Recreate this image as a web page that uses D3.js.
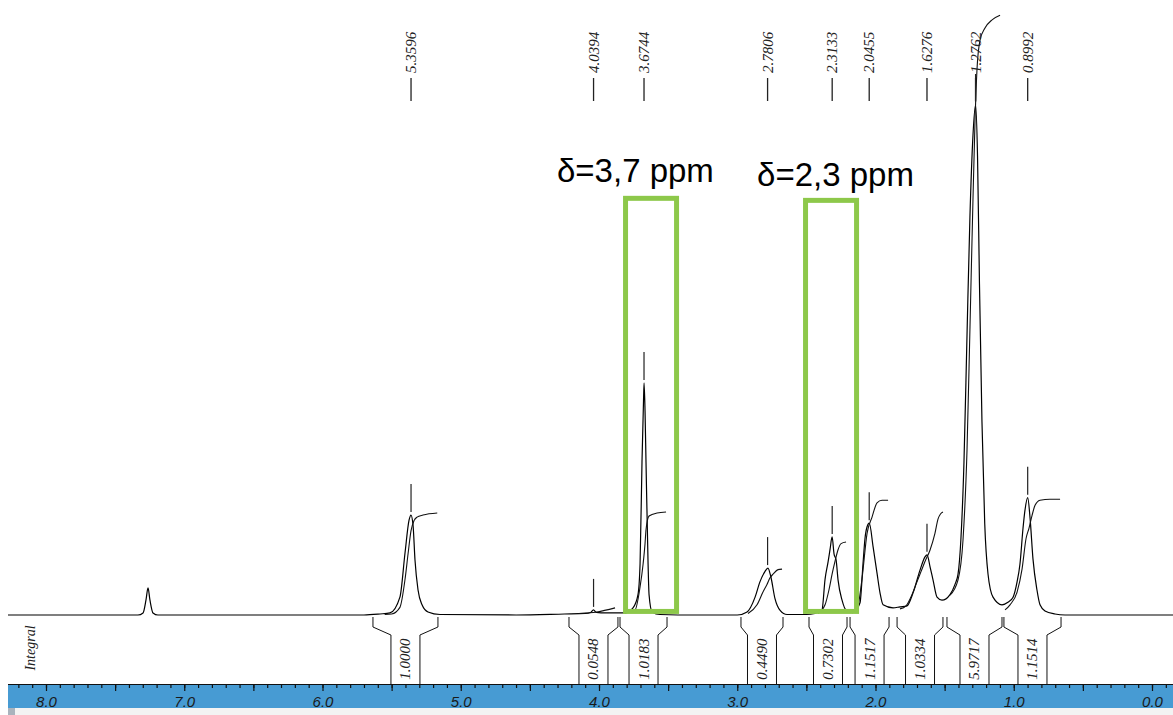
<!DOCTYPE html>
<html><head><meta charset="utf-8">
<script src="https://cdn.jsdelivr.net/npm/d3@7"></script>
<style>html,body{margin:0;padding:0;background:#fff;overflow:hidden}</style>
</head><body><svg id="c" width="1173" height="715"></svg>
<script>
// ---------- DATA ----------
// spectrum points: [ppm, relative intensity]
const spectrum = [
 [8.30,0],[7.40,0],[7.335,0],[7.298,0.4],[7.277,2.9],[7.262,5.3],[7.248,2.9],[7.226,0.4],[7.19,0],
 [5.70,0],[5.584,0.2],[5.512,0.4],[5.44,3.5],[5.403,12.2],[5.374,18.6],[5.36,19.6],[5.345,17.6],[5.331,10.8],[5.309,4.9],[5.28,2.0],[5.237,0.6],[5.15,0.1],[4.6,0],
 [4.25,0.2],[4.10,0.3],[4.06,0.5],[4.04,1.0],[4.02,0.5],[3.95,0.4],[3.85,0.4],
 [3.812,0.4],[3.754,1.4],[3.718,4],[3.703,10],[3.689,30],[3.678,42],[3.674,45.5],[3.667,40],[3.660,30],[3.645,10],[3.638,4],[3.616,0.6],[3.559,0.1],[3.3,0],
 [3.0,0],[2.929,0.6],[2.871,3.5],[2.836,6.5],[2.800,8.5],[2.778,9.2],[2.757,7.5],[2.727,3.2],[2.690,0.9],[2.640,0.1],
 [2.50,0.1],[2.438,0.3],[2.387,1],[2.365,7],[2.343,10.4],[2.328,13],[2.314,15.3],[2.30,12],[2.285,10.8],[2.271,6.9],[2.242,2.9],[2.213,1.0],[2.184,0.9],
 [2.148,1.0],[2.112,2.4],[2.09,10.2],[2.076,15],[2.061,17.3],[2.045,18],[2.017,13.3],[1.989,8.2],[1.967,4.3],[1.945,2.0],[1.873,1.4],
 [1.823,1.6],[1.772,1.8],[1.729,4.3],[1.678,8.8],[1.642,11.4],[1.627,11.8],[1.605,9.4],[1.584,6.9],[1.555,3.5],[1.519,2.9],
 [1.461,4],[1.425,6],[1.403,8],[1.382,15],[1.360,30],[1.338,55],[1.317,78],[1.295,94],[1.276,100],[1.262,90],[1.248,65],[1.230,38],[1.21,18],[1.186,8],[1.15,3.5],[1.085,2],
 [1.042,2.5],[1.005,3.5],[0.976,6.5],[0.955,10],[0.933,17],[0.919,20.5],[0.899,23],[0.882,19],[0.861,11],[0.832,4.9],[0.81,2],[0.774,0.8],[0.702,0.2],[0.629,0],[-0.16,0]
];

// integral curves: [ppm, relative height]
const integralCurves = [
 [[5.55,0.1],[5.50,0.2],[5.44,1.5],[5.403,7],[5.381,12],[5.36,16.5],[5.338,18.5],[5.316,19.2],[5.273,19.6],[5.17,20]],
 [[4.15,0.3],[4.014,0.6],[3.884,1.4]],
 [[3.812,0.4],[3.739,1.0],[3.703,5.5],[3.681,10],[3.667,14],[3.660,16.7],[3.638,19.4],[3.580,20],[3.515,20.2]],
 [[2.922,0.3],[2.857,2],[2.814,4.5],[2.785,6],[2.763,7.3],[2.741,8.0],[2.705,8.9],[2.676,9.0]],
 [[2.416,0.3],[2.365,2],[2.336,5],[2.314,8],[2.293,10.5],[2.271,12.8],[2.249,14],[2.213,14.3]],
 [[2.170,0.4],[2.134,1],[2.098,7],[2.061,16],[2.025,19.2],[1.989,22],[1.953,22.5],[1.909,22.5]],
 [[1.823,1.2],[1.779,1.8],[1.736,4],[1.700,6.5],[1.671,8.5],[1.642,10.5],[1.606,12.7],[1.570,16],[1.548,18.8],[1.530,19.8],[1.512,20.2]],
 [[1.461,3.9],[1.403,6.9],[1.367,14.7],[1.338,32.4],[1.317,56],[1.295,81.4],[1.280,97],[1.266,106.9],[1.244,112.7],[1.208,115.1],[1.157,116.7],[1.099,117.6]],
 [[1.063,1.0],[1.027,2],[0.976,4.5],[0.940,9],[0.911,15],[0.890,17],[0.868,19.5],[0.846,21.5],[0.810,22.5],[0.738,22.7],[0.665,22.7]]
];

// integral regions (ppm) and values
const integralFrom   = [5.635, 4.217, 3.848, 2.973, 2.481, 2.184, 1.844, 1.483, 1.071];
const integralTo     = [5.165, 3.863, 3.508, 2.669, 2.206, 1.902, 1.512, 1.085, 0.658];
const integralLabels = ["1.0000","0.0548","1.0183","0.4490","0.7302","1.1517","1.0334","5.9717","1.1514"];

// picked peaks
const peakLabels = ["5.3596","4.0394","3.6744","2.7806","2.3133","2.0455","1.6276","1.2762","0.8992"];
const peakTops   = [19.6, 1.0, 45.5, 9.2, 15.3, 18, 11.8, 100, 23];

// axis
const tickValuesMajor = [8,7,6,5,4,3,2,1,0];
const tickLabels = ["8.0","7.0","6.0","5.0","4.0","3.0","2.0","1.0","0.0"];

// highlight boxes
const boxLabels = ["δ=3,7 ppm","δ=2,3 ppm"];
const boxFrom = [3.808, 2.506];
const boxTo   = [3.439, 2.137];
const boxTop  = [81.7, 81.3];   // relative height of box top
const boxTextPpm = [4.304, 2.857];
const boxTextH = [84.9, 84.2];

// ---------- DRAW ----------
const svg = d3.select("#c");
const x = d3.scaleLinear().domain([8,0]).range([46,1152]);
const y = d3.scaleLinear().domain([0,100]).range([615,105]);

svg.append("defs").append("clipPath").attr("id","clip")
  .append("rect").attr("x",8).attr("y",0).attr("width",1165).attr("height",684);

const line = d3.line().x(d=>x(d[0])).y(d=>y(d[1])).curve(d3.curveMonotoneX);

const plot = svg.append("g").attr("clip-path","url(#clip)");

// green boxes (behind spectrum)
boxFrom.forEach((b,i)=>{
  svg.append("rect")
    .attr("x", x(b)).attr("y", y(boxTop[i]))
    .attr("width", x(boxTo[i])-x(b)).attr("height", y(0.7)-y(boxTop[i]))
    .attr("fill","none").attr("stroke","#8dc84a").attr("stroke-width",5);
  svg.append("text").attr("x", x(boxTextPpm[i])).attr("y", y(boxTextH[i]))
    .attr("font-family","Liberation Sans, Arial, sans-serif").attr("font-size",33)
    .attr("fill","#000").text(boxLabels[i]);
});

plot.append("path").datum(spectrum).attr("d",line)
  .attr("fill","none").attr("stroke","#000").attr("stroke-width",1.2);

integralCurves.forEach(c=>{
  plot.append("path").datum(c).attr("d",line)
    .attr("fill","none").attr("stroke","#111").attr("stroke-width",1.1);
});

// peak markers and labels
const serif = "Liberation Serif, Times New Roman, serif";
peakLabels.forEach((lab,i)=>{
  const p = parseFloat(lab), px = x(p);
  svg.append("line").attr("x1",px).attr("x2",px).attr("y1",78).attr("y2",101)
    .attr("stroke","#222").attr("stroke-width",1.3);
  svg.append("line").attr("x1",px).attr("x2",px).attr("y1",y(peakTops[i])-31).attr("y2",y(peakTops[i])-3)
    .attr("stroke","#222").attr("stroke-width",1.2);
  svg.append("text").attr("transform",`translate(${px+5},73) rotate(-90)`)
    .attr("font-family",serif).attr("font-style","italic").attr("font-size",15)
    .attr("fill","#222").text(lab);
});

// integral brackets
const yb0 = 617, yb1 = 627, yb2 = 635, yb3 = 684;
integralFrom.forEach((f,i)=>{
  const xl = x(f), xr = x(integralTo[i]), cx = (xl+xr)/2;
  const il = cx-14.5, ir = cx+14.5;
  svg.append("path").attr("d",`M${xl},${yb0}L${xl},${yb1}L${il},${yb2}L${il},${yb3}`)
    .attr("fill","none").attr("stroke","#111").attr("stroke-width",1);
  svg.append("path").attr("d",`M${xr},${yb0}L${xr},${yb1}L${ir},${yb2}L${ir},${yb3}`)
    .attr("fill","none").attr("stroke","#111").attr("stroke-width",1);
  svg.append("text").attr("transform",`translate(${cx+5},659) rotate(-90)`)
    .attr("text-anchor","middle").attr("font-family",serif).attr("font-style","italic")
    .attr("font-size",15).attr("fill","#222").text(integralLabels[i]);
});

svg.append("text").attr("transform","translate(35,648) rotate(-90)")
  .attr("text-anchor","middle").attr("font-family",serif).attr("font-style","italic")
  .attr("font-size",14).attr("fill","#222").text("Integral");

// axis band
svg.append("rect").attr("x",8).attr("y",684).attr("width",1165).attr("height",24).attr("fill","#479bd3");
svg.append("rect").attr("x",8).attr("y",708).attr("width",1165).attr("height",7).attr("fill","#f3f3f3");
svg.append("rect").attr("x",8).attr("y",708).attr("width",7).attr("height",7).attr("fill","#a9b3bd");
svg.append("line").attr("x1",8).attr("x2",1173).attr("y1",684.5).attr("y2",684.5).attr("stroke","#111").attr("stroke-width",1.2);

const axG = svg.append("g").attr("transform","translate(0,684)");
const minor = d3.range(-1, 83).map(i=>i/10);
axG.append("g").call(d3.axisBottom(x).tickValues(minor).tickSize(4).tickFormat(""))
  .call(g=>g.select(".domain").remove());
axG.append("g").call(d3.axisBottom(x).tickValues(d3.range(0,17).map(i=>i/2)).tickSize(7).tickFormat(""))
  .call(g=>g.select(".domain").remove());
const lab = axG.append("g").call(d3.axisBottom(x).tickValues(tickValuesMajor).tickSize(0).tickPadding(12)
    .tickFormat((d,i)=>tickLabels[i]))
  .call(g=>g.select(".domain").remove());
lab.selectAll("text").attr("font-family","Liberation Sans, Arial, sans-serif").attr("font-style","italic")
  .attr("font-size",15).attr("fill","#1a1a1a");
axG.selectAll(".tick line").attr("stroke","#111").attr("stroke-width",1.2);
</script></body></html>
